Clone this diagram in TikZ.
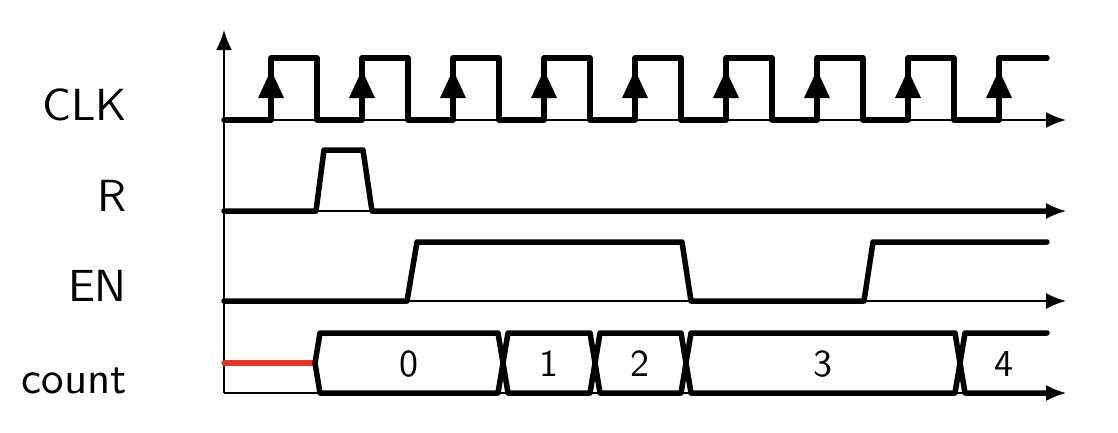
\documentclass[tikz,border=0pt]{standalone}
\usepackage{fontspec}
\usetikzlibrary{arrows.meta}
\newfontfamily\lblsf[Extension=.otf]{lmsans10-regular}
\definecolor{sigred}{RGB}{232,52,36}
\begin{document}
\begin{tikzpicture}[x=1pt,y=-1pt,
  sig/.style={line width=5.5pt, line cap=round, line join=round},
  axisline/.style={line width=1.8pt, -{Latex[length=20pt,width=16pt]}},
  lbl/.style={anchor=base east, font=\lblsf\fontsize{45}{50}\selectfont, inner sep=0pt},
  num/.style={font=\lblsf\fontsize{38}{42}\selectfont, inner sep=0pt},
  edgearrow/.style={fill=black}
]
\useasboundingbox (0,0) rectangle (1118,432);
% axes
\draw[axisline] (224,393) -- (224,30);
\foreach \y in {120,211,301,393} \draw[axisline] (224,\y) -- (1066,\y);
% labels
\node[lbl] (lclk) at (127,120) {CLK};
\node[lbl] (lr) at (127,211) {R};
\node[lbl] (len) at (127,301) {EN};
\node[lbl] (lcount) at (127,393) {count};
% CLK
\draw[sig] (224,120) -- (271,120) -- (271,58) -- (317,58) -- (317,120) -- (362,120) -- (362,58) -- (408,58) -- (408,120) -- (453,120) -- (453,58) -- (499,58) -- (499,120) -- (544,120) -- (544,58) -- (590,58) -- (590,120) -- (635,120) -- (635,58) -- (681,58) -- (681,120) -- (726,120) -- (726,58) -- (772,58) -- (772,120) -- (817,120) -- (817,58) -- (863,58) -- (863,120) -- (908,120) -- (908,58) -- (954,58) -- (954,120) -- (999,120) -- (999,58) -- (1047,58);
\foreach \x in {271,362,...,999} \fill[edgearrow] (\x,70) -- (\x-13,98) -- (\x+13,98) -- cycle;
% R
\draw[sig] (224,211) -- (316,211) -- (324,150) -- (363,150) -- (372,211) -- (1047,211);
% EN
\draw[sig] (224,301) -- (407,301) -- (417,242) -- (682,242) -- (691,301) -- (864,301) -- (873,242) -- (1047,242);
% count
\draw[sig, sigred] (224,363) -- (313,363);
\draw[sig] (315,363) -- (320,333) -- (498,333) -- (503,363) -- (498,393) -- (320,393) -- cycle;
\draw[sig] (503,363) -- (508,333) -- (590,333) -- (595,363) -- (590,393) -- (508,393) -- cycle;
\draw[sig] (595,363) -- (600,333) -- (681,333) -- (686,363) -- (681,393) -- (600,393) -- cycle;
\draw[sig] (686,363) -- (691,333) -- (955,333) -- (960,363) -- (955,393) -- (691,393) -- cycle;
\draw[sig] (1047,333) -- (965,333) -- (960,363) -- (965,393) -- (1047,393);
\node[num] (v0) at (409,364) {0};
\node[num] (v1) at (549,364) {1};
\node[num] (v2) at (640,364) {2};
\node[num] (v3) at (823,364) {3};
\node[num] (v4) at (1004,364) {4};
\end{tikzpicture}
\end{document}
